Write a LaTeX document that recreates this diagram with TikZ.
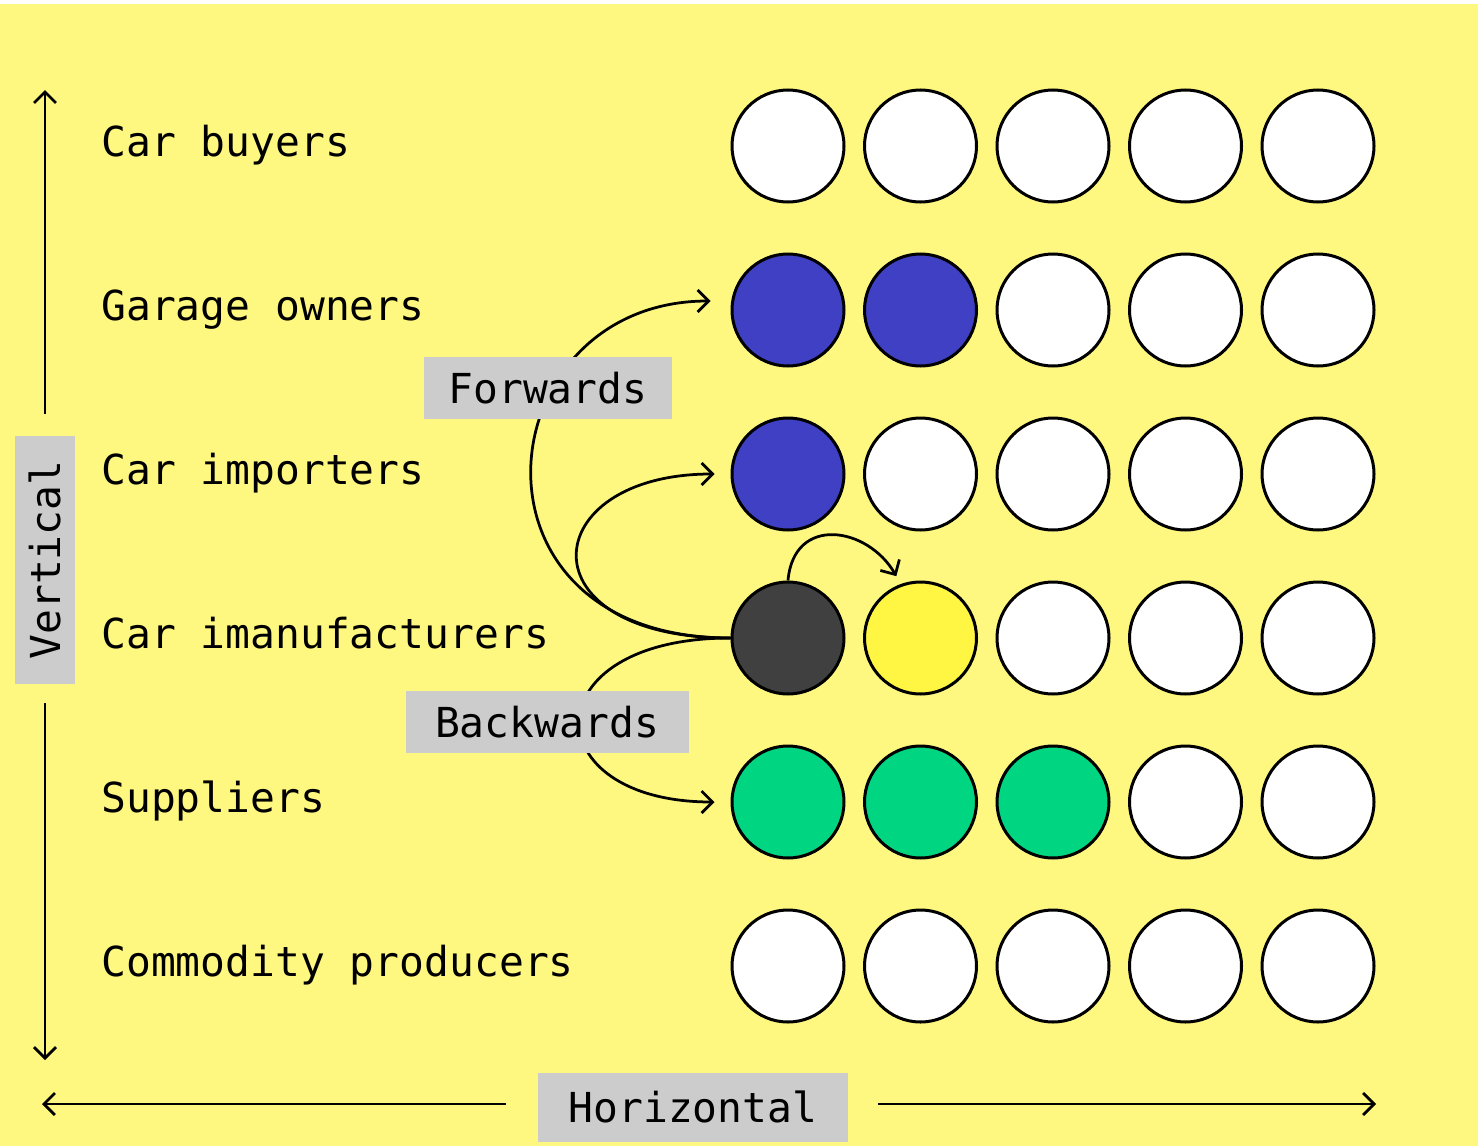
\documentclass[tikz,border=0pt]{standalone}
\usepackage{fontspec}
\setmainfont{DejaVu Sans Mono}
\usetikzlibrary{arrows.meta}

\definecolor{paper}{RGB}{255,248,128}
\definecolor{tagbg}{RGB}{204,204,204}
\definecolor{dotblue}{RGB}{64,64,196}
\definecolor{dotgreen}{RGB}{0,214,130}
\definecolor{dotdark}{RGB}{64,64,64}
\definecolor{dotyellow}{RGB}{255,246,68}

\begin{document}
\begin{tikzpicture}[x=0.2mm, y=0.2mm, line width=0.55mm,
  >={Straight Barb[length=2.2mm, width=4.4mm]},
  dot/.style={circle, draw, line width=0.6mm, minimum size=22.4mm, inner sep=0pt},
  tag/.style={fill=tagbg, inner sep=0pt, minimum height=12.4mm, font=\fontsize{23.5}{28}\selectfont},
  level/.style={anchor=base west, inner sep=0pt, font=\fontsize{23.5}{28}\selectfont}]
% page
\fill[white] (0,0) rectangle (1478,-1146);
\fill[paper] (0,-4) rectangle (1478,-1146);
\useasboundingbox (0,0) rectangle (1478,-1146);

% levels of the chain
\node[level] (buyers) at (100,-156) {Car buyers};
\node[level] (garages) at (100,-320) {Garage owners};
\node[level] (importers) at (100,-484) {Car importers};
\node[level] (makers) at (100,-648) {Car imanufacturers};
\node[level] (suppliers) at (100,-812) {Suppliers};
\node[level] (producers) at (100,-976) {Commodity producers};

% firms on each level
\foreach \n/\y/\fills in {buy/146/{white,white,white,white,white},
    gar/310/{dotblue,dotblue,white,white,white},
    imp/474/{dotblue,white,white,white,white},
    man/638/{dotdark,dotyellow,white,white,white},
    sup/802/{dotgreen,dotgreen,dotgreen,white,white},
    com/966/{white,white,white,white,white}}
  \foreach \f [count=\i] in \fills
    \node[dot, fill=\f] (\n\i) at ({788+132.5*(\i-1)},-\y) {};

% integration moves
\draw[->, shorten >=4mm] (man1.west) .. controls +(-280,0) and +(-245,0) .. ([yshift=1.8mm]gar1.west);
\draw[->, shorten >=3.2mm] (man1.west) .. controls +(-210,0) and +(-195,0) .. (imp1.west);
\draw[->, shorten >=3.2mm] (man1.west) .. controls +(-200,0) and +(-197,0) .. (sup1.west);
\draw[->, shorten >=1.8mm] (man1.north) to[out=85, in=120, looseness=1.5] (man2.110);

\node[tag, minimum width=49.6mm] (fwd) at (548,-388) {Forwards};
\node[tag, minimum width=56.6mm] (bwd) at (547,-722) {Backwards};

% axes
\node[tag, minimum width=49.6mm, minimum height=12mm, rotate=90] (vert) at (45,-560) {Vertical};
\node[tag, minimum width=62mm, minimum height=13.8mm] (horiz) at (693,-1107) {Horizontal};
\coordinate (vtop) at (45,-90);
\coordinate (vbot) at (45,-1060);
\coordinate (hleft) at (42,-1104);
\coordinate (hright) at (1376,-1104);
\draw[->, shorten <=4.2mm] (vert.east) -- (vtop);
\draw[->, shorten <=3.6mm] (vert.west) -- (vbot);
\draw[->, shorten <=6.2mm] (horiz.west |- hleft) -- (hleft);
\draw[->, shorten <=5.8mm] (horiz.east |- hright) -- (hright);
\end{tikzpicture}
\end{document}
